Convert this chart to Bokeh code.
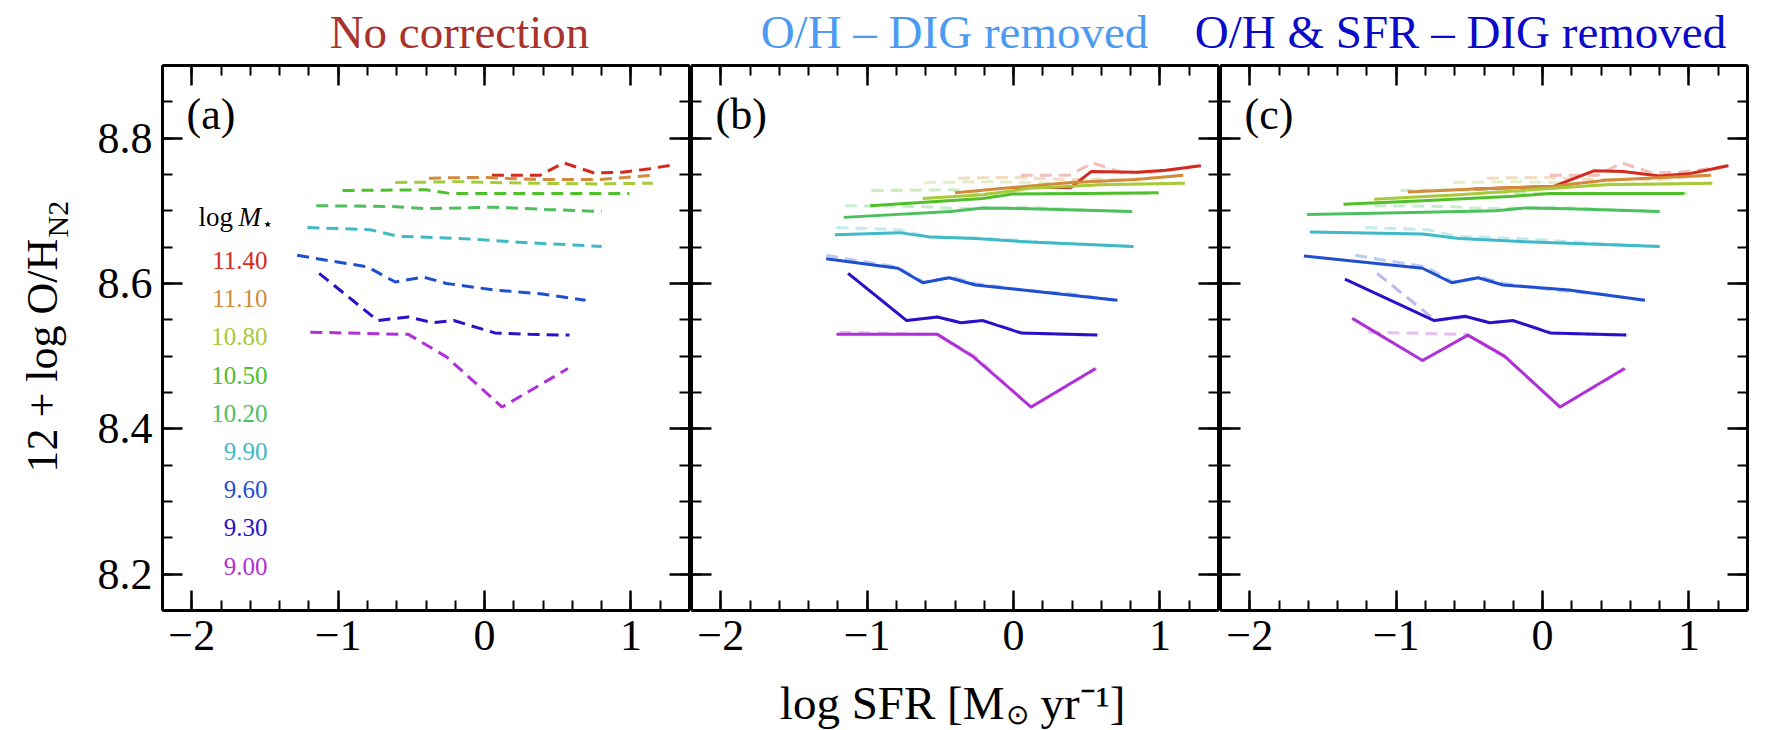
import math
from bokeh.plotting import figure
from bokeh.models import LinearAxis, Label, FixedTicker, Range1d
from bokeh.layouts import row, column
from bokeh.embed import file_html
from bokeh.resources import INLINE

# ---------------- data ----------------
log_mass = ["11.40", "11.10", "10.80", "10.50", "10.20", "9.90", "9.60", "9.30", "9.00"]
mass_colors = ["#d42a1e", "#d08c3a", "#a8c93a", "#4fc02a", "#4cc05c",
               "#3fb9c6", "#1f4fd0", "#2a10c8", "#b030d8"]

# panel (a): no correction  (log SFR, 12+log O/H)
a_sfr = [
    [0.05, 0.38, 0.54, 0.75, 0.94, 1.13, 1.28],
    [-0.38, -0.02, 0.38, 0.78, 1.15],
    [-0.61, -0.17, 0.31, 0.78, 1.15],
    [-0.97, -0.40, -0.24, 0.31, 0.99],
    [-1.15, -0.64, -0.40, 0.07, 0.42, 0.80],
    [-1.21, -0.78, -0.59, -0.17, 0.31, 0.80],
    [-1.28, -1.08, -0.80, -0.61, -0.42, -0.26, 0.07, 0.38, 0.69],
    [-1.13, -0.73, -0.52, -0.35, -0.21, 0.07, 0.31, 0.58],
    [-1.19, -0.52, -0.26, 0.12, 0.57],
]
a_oh = [
    [8.749, 8.749, 8.766, 8.752, 8.753, 8.758, 8.763],
    [8.745, 8.746, 8.743, 8.743, 8.749],
    [8.739, 8.740, 8.738, 8.737, 8.738],
    [8.728, 8.729, 8.724, 8.724, 8.724],
    [8.707, 8.706, 8.703, 8.705, 8.702, 8.699],
    [8.677, 8.674, 8.665, 8.662, 8.656, 8.651],
    [8.639, 8.632, 8.623, 8.602, 8.609, 8.600, 8.591, 8.586, 8.577],
    [8.614, 8.549, 8.554, 8.546, 8.549, 8.532, 8.530, 8.529],
    [8.533, 8.530, 8.499, 8.430, 8.483],
]

# panel (b): O/H - DIG removed
b_sfr = [
    [-0.01, 0.39, 0.53, 0.84, 1.04, 1.28],
    [-0.40, -0.01, 0.39, 0.84, 1.16],
    [-0.62, -0.21, 0.11, 0.60, 1.17],
    [-0.98, -0.21, -0.01, 0.48, 0.99],
    [-1.16, -0.43, -0.21, 0.11, 0.81],
    [-1.22, -0.78, -0.57, -0.26, 0.11, 0.82],
    [-1.28, -0.79, -0.62, -0.44, -0.26, 0.11, 0.71],
    [-1.13, -0.73, -0.52, -0.36, -0.21, 0.05, 0.57],
    [-1.21, -0.52, -0.28, 0.12, 0.56],
]
b_oh = [
    [8.732, 8.732, 8.754, 8.753, 8.756, 8.762],
    [8.725, 8.732, 8.739, 8.743, 8.749],
    [8.717, 8.722, 8.731, 8.736, 8.738],
    [8.707, 8.717, 8.723, 8.724, 8.725],
    [8.691, 8.699, 8.704, 8.703, 8.699],
    [8.667, 8.670, 8.664, 8.662, 8.657, 8.651],
    [8.634, 8.621, 8.601, 8.608, 8.598, 8.590, 8.577],
    [8.614, 8.549, 8.554, 8.546, 8.549, 8.532, 8.529],
    [8.530, 8.530, 8.500, 8.430, 8.483],
]

# panel (c): O/H & SFR - DIG removed
c_sfr = [
    [-0.47, 0.08, 0.35, 0.55, 0.80, 1.00, 1.27],
    [-0.92, -0.47, 0.08, 0.43, 1.15],
    [-1.15, -0.57, -0.07, 0.43, 1.16],
    [-1.36, -0.82, -0.20, 0.05, 0.97],
    [-1.61, -1.06, -0.32, -0.12, 0.18, 0.80],
    [-1.59, -0.82, -0.57, -0.07, 0.80],
    [-1.63, -0.82, -0.62, -0.44, -0.27, 0.18, 0.70],
    [-1.35, -0.74, -0.53, -0.36, -0.20, 0.05, 0.57],
    [-1.30, -0.82, -0.51, -0.26, 0.12, 0.56],
]
c_oh = [
    [8.730, 8.734, 8.755, 8.754, 8.748, 8.751, 8.762],
    [8.726, 8.730, 8.734, 8.742, 8.749],
    [8.716, 8.722, 8.729, 8.736, 8.738],
    [8.709, 8.714, 8.720, 8.724, 8.724],
    [8.695, 8.697, 8.700, 8.704, 8.703, 8.699],
    [8.671, 8.668, 8.662, 8.657, 8.651],
    [8.638, 8.621, 8.601, 8.608, 8.598, 8.591, 8.577],
    [8.606, 8.549, 8.555, 8.546, 8.549, 8.532, 8.529],
    [8.552, 8.494, 8.529, 8.500, 8.430, 8.483],
]

panel_titles = ["No correction", "O/H \u2013 DIG removed", "O/H & SFR \u2013 DIG removed"]
title_colors = ["#a8322d", "#4d9bf0", "#0a0ac8"]
panel_letters = ["(a)", "(b)", "(c)"]
x_ticks = [-2, -1, 0, 1]
x_tick_labels = ["\u22122", "\u22121", "0", "1"]
y_ticks = [8.2, 8.4, 8.6, 8.8]
y_tick_labels = ["8.2", "8.4", "8.6", "8.8"]
x_lim = (-2.2, 1.4)
y_lim = (8.15, 8.9)

# ---------------- styling / layout ----------------
FONT = "Liberation Serif"
FRAME_W = 527
FRAME_H = 545
TOP_H = 59
MID_H = 615
BOT_H = 56
PANEL_BOTTOM = 64
x_minor = [round(x_lim[0] + 0.2 * i, 2) for i in range(19)]
y_minor = [round(y_lim[0] + 0.05 * i, 3) for i in range(16)]


def add_axis(p, side, ticks, minor, labels, show):
    ax = LinearAxis(ticker=FixedTicker(ticks=ticks, minor_ticks=minor))
    ax.axis_line_width = 3
    ax.axis_line_color = "black"
    ax.major_tick_in = 20
    ax.major_tick_out = 0
    ax.minor_tick_in = 10
    ax.minor_tick_out = 0
    ax.major_tick_line_width = 2.5
    ax.minor_tick_line_width = 2
    ax.major_tick_line_color = "black"
    ax.minor_tick_line_color = "black"
    ax.major_label_overrides = {t: (l if show else "") for t, l in zip(ticks, labels)}
    if show:
        ax.major_label_text_font = FONT
        ax.major_label_text_font_size = "44px"
        ax.major_label_text_color = "black"
        ax.major_label_standoff = 10
    else:
        ax.major_label_text_font_size = "1px"
        ax.major_label_standoff = 0
    p.add_layout(ax, side)


def add_text(p, x, y, text, size, color="black", align="left",
             baseline="middle", angle=0.0, style="normal"):
    p.add_layout(Label(x=x, y=y, x_units="screen", y_units="screen", text=text,
                       text_font=FONT, text_font_size=size, text_color=color,
                       text_align=align, text_baseline=baseline, angle=angle,
                       text_font_style=style))


def text_fig(w, h, top=0, bottom=0):
    f = figure(width=w, height=h, x_range=Range1d(0, 1), y_range=Range1d(0, 1),
               output_backend="svg", toolbar_location=None,
               x_axis_location=None, y_axis_location=None, min_border=0,
               min_border_top=top, min_border_bottom=bottom)
    f.outline_line_color = None
    f.background_fill_color = "white"
    f.border_fill_color = "white"
    f.grid.visible = False
    return f


def make_panel(k, sfr, oh, width, mb_left, mb_right, dashed, ghost):
    p = figure(width=width, height=MID_H,
               x_range=Range1d(*x_lim), y_range=Range1d(*y_lim),
               output_backend="svg", toolbar_location=None,
               x_axis_location=None, y_axis_location=None,
               min_border_left=mb_left, min_border_right=mb_right,
               min_border_top=6, min_border_bottom=PANEL_BOTTOM)
    p.outline_line_color = None
    p.background_fill_color = "white"
    p.border_fill_color = "white"
    p.grid.visible = False

    add_axis(p, "below", x_ticks, x_minor, x_tick_labels, True)
    add_axis(p, "above", x_ticks, x_minor, x_tick_labels, False)
    add_axis(p, "left", y_ticks, y_minor, y_tick_labels, k == 0)
    add_axis(p, "right", y_ticks, y_minor, y_tick_labels, False)

    if ghost:
        for xs, ys, col in zip(a_sfr, a_oh, mass_colors):
            p.line(xs, ys, line_color=col, line_width=3, line_alpha=0.3,
                   line_dash="12 7")
    for xs, ys, col in zip(sfr, oh, mass_colors):
        if dashed:
            p.line(xs, ys, line_color=col, line_width=3, line_dash="12 7")
        else:
            p.line(xs, ys, line_color=col, line_width=3, line_join="round")

    add_text(p, 24, 496, panel_letters[k], "44px")
    return p


pa = make_panel(0, a_sfr, a_oh, 610, 82, 1, True, False)
pb = make_panel(1, b_sfr, b_oh, 529, 1, 1, False, True)
pc = make_panel(2, c_sfr, c_oh, 553, 1, 25, False, True)

# legend of stellar masses (inside panel a)
add_text(pa, 36, 394, "log", "27px")
add_text(pa, 76, 394, "M", "27px", style="italic")
add_text(pa, 99, 387, "\u22c6", "18px")
for i, (lab, col) in enumerate(zip(log_mass, mass_colors)):
    add_text(pa, 105, 350 - 38.2 * i, lab, "25px", color=col, align="right")

# titles strip
top = text_fig(1772, TOP_H)
for cx, t, col in zip([459, 954, 1460], panel_titles, title_colors):
    add_text(top, cx, 28, t, "47px", color=col, align="center")

# y-axis label strip (frame aligned with the panels' frames)
ylab = text_fig(80, MID_H, top=6, bottom=PANEL_BOTTOM)
add_text(ylab, 42, 138, "12 + log O/H", "44px", angle=math.pi / 2)
add_text(ylab, 57, 373, "N2", "30px", angle=math.pi / 2)

# x-axis label strip
bot = text_fig(1772, BOT_H)
add_text(bot, 1004, 28, "log SFR [M", "47px", align="right")
add_text(bot, 1005, 16, "\u2299", "28px")
add_text(bot, 1040, 28, "yr\u207b\u00b9]", "47px")

layout = column(top, row(ylab, pa, pb, pc), bot)
open("out.html", "w").write(file_html(layout, INLINE))
